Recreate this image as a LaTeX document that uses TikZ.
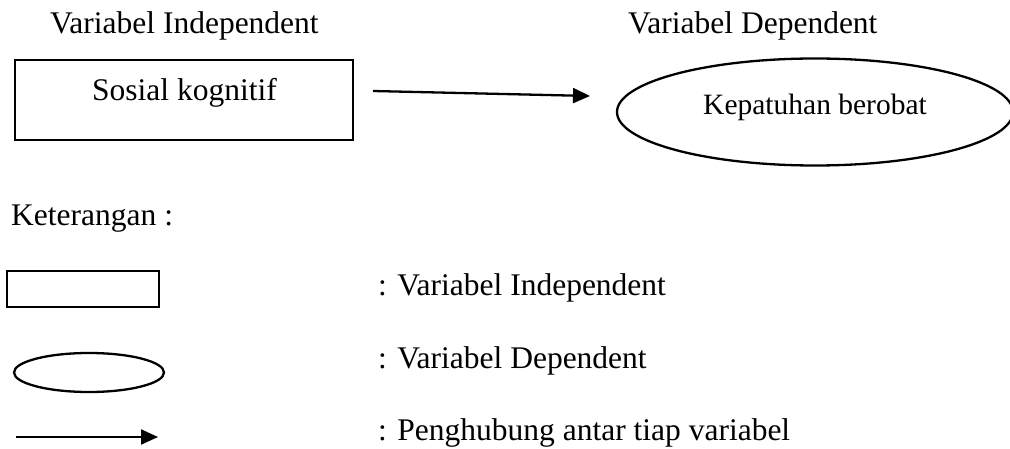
\documentclass[tikz,border=0pt]{standalone}
\usepackage{fontspec}
\setmainfont{Liberation Serif}
\usetikzlibrary{shapes.geometric,arrows.meta}
\begin{document}
\begin{tikzpicture}[x=1pt,y=-1pt,
  txt/.style={anchor=base west,inner sep=0pt,font=\fontsize{31.5}{36}\selectfont},
  small/.style={anchor=base west,inner sep=0pt,font=\fontsize{29.5}{33}\selectfont},
  box/.style={draw,line width=2.3pt,rectangle,inner sep=0pt},
  oval/.style={draw,line width=2.3pt,ellipse,inner sep=0pt},
  link/.style={line width=2.3pt,-{Triangle[length=17pt,width=15pt]}}]
\useasboundingbox (0,0) rectangle (1010,449);
% headings
\node[txt] (hi) at (50,34) {Variabel Independent};
\node[txt] (hd) at (628,34) {Variabel Dependent};
% independent variable box
\node[box,minimum width=338pt,minimum height=80pt] (ind) at (184,100) {};
\node[txt] (indt) at (92,101) {Sosial kognitif};
% dependent variable oval
\node[oval,minimum width=396pt,minimum height=107pt] (dep) at (815,112) {};
\node[small] (dept) at (703,115) {Kepatuhan berobat};
% connector
\coordinate (a0) at (373,91);
\coordinate (a1) at (590,96);
\draw[link] (a0) -- (a1);
% legend
\node[txt] (ket) at (11,226) {Keterangan :};
\node[box,minimum width=152pt,minimum height=36pt] (lbox) at (83,289) {};
\node[oval,minimum width=150pt,minimum height=39pt] (loval) at (89,372.5) {};
\coordinate (l0) at (16,437);
\coordinate (l1) at (158,437);
\draw[link] (l0) -- (l1);
\node[txt] (k1) at (378,295) {: Variabel Independent};
\node[txt] (k2) at (378,368) {: Variabel Dependent};
\node[txt] (k3) at (378,440) {: Penghubung antar tiap variabel};
\end{tikzpicture}
\end{document}
